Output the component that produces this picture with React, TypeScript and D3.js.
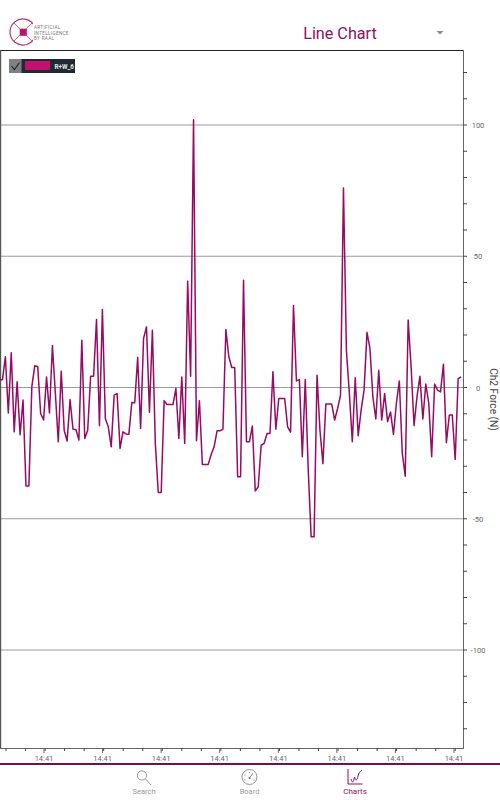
import React from "react";
import * as d3 from "d3";

const forceValues = [
  3, 3, 11.7, -9.7, 13.2, -16.9, 2.2, -18, -4.8, -37.5,
  -37.5, 0.3, 8.3, 7.9, -9.9, -12.4, 4, -9.7, 16, -2.3,
  -20.7, 6.2, -16.3, -20.4, -4.6, -15.9, -16, -20, 18, -19.4,
  -16.3, 4.3, 4.3, 25.9, -14.6, 29.7, -11.8, -15, -22.6, -2.9,
  -2.3, -23.2, -16.9, -17.7, -17.8, -5.7, -5.8, 11.4, -15.6, 18.7,
  23.1, -9.4, 21.8, -21.3, -40, -40, -5, -6.5, -6.5, -6.5,
  -0.4, -19.4, 4, -21.3, 40.5, 4.3, 102, -20.3, -5, -29.3,
  -29.3, -29.3, -25.5, -22.6, -16.5, -16.5, -15.9, 22.1, 11.7, 7.6,
  7.6, -34, -34, 40.9, -20.7, -20.7, -14.7, -39.4, -37.8, -22,
  -21.3, -17.5, -17.5, 6, -15.9, -4.2, -4.2, -4.2, -15, -17,
  31.2, 2.5, 3, -26.4, 3, -31, -56.9, -56.9, 4.7, -16.3,
  -29, -6.3, -6.3, -6.3, -12.4, -8, -2.9, 76, 14, -2.3,
  -20.7, 3.7, -18.4, -8.6, -1, 21, 14.9, -3.6, -12, 6.6,
  -12.4, -2.3, -13, -9.3, -17.9, -6, 2.5, -25, -33.8, 25.7,
  7.9, -14.5, -3.6, 4.3, -12, 1.3, -6, -26.4, 1.3, -1,
  -1.7, 8.9, -21, -10.5, -10.5, -27.4, 3.4, 4,
];
const yGrid = [100, 50, 0, -50, -100];
const yMinor = d3.range(-130, 130, 10);
const xMajorIndex = [0, 1, 2, 3, 4, 5, 6, 7];
const xTickLabel = "14:41";
const seriesName = "R+W_6";
const yTitle = "Ch2 Force (N)";
const chartTitle = "Line Chart";
const navItems = ["Search", "Board", "Charts"];
const logoLines = ["ARTIFICIAL", "INTELLIGENCE", "BY RAAL"];

const PURPLE = "#8e0f62";
const LINE = "#960b63";
const font = "Roboto, sans-serif";

const PLOT_L = 0;
const PLOT_R = 463;
const PLOT_T = 50;
const PLOT_B = 748;

const x = d3.scaleLinear().domain([0, forceValues.length - 1]).range([-0.5, -0.5 + 2.94 * (forceValues.length - 1)]);
const y = d3.scaleLinear().domain([100, -100]).range([125, 650]);
const xMajor = d3.scaleLinear().domain([0, 7]).range([44, 454]);
const xMinorPositions = d3.range(-14, 463, 19.53);

const ringArc = d3.arc()({ innerRadius: 13, outerRadius: 13, startAngle: 1.95, endAngle: 2 * Math.PI + 1.15 }) as string;

export default function App() {
  const path = d3.line<number>().x((_, i) => x(i)).y((v) => y(v))(forceValues) as string;
  return (
    <svg width={500} height={800} style={{ position: "fixed", left: 0, top: 0, background: "#fff", fontFamily: font }}>
      {/* header */}
      <g>
        <path d={ringArc} transform="translate(23,32)" fill="none" stroke="#b0336f" strokeWidth={1.2} />
        <line x1={14} y1={23} x2={32} y2={41} stroke="#b8457f" strokeWidth={0.8} />
        <line x1={32} y1={23} x2={14} y2={41} stroke="#b8457f" strokeWidth={0.8} />
        <rect x={20} y={29} width={6.5} height={6.5} fill="#b8156c" stroke="#b8156c" strokeWidth={0.6} />
        <rect x={33} y={23} width={36} height={18} fill="#fff" />
        {logoLines.map((t, i) => (
          <text key={t} x={34} y={29 + i * 5.6} fontSize={4.6} letterSpacing={0.35} fill="#77777a">{t}</text>
        ))}
      </g>
      <text x={340} y={38.5} textAnchor="middle" fontSize={16.2} fill={PURPLE}>{chartTitle}</text>
      <path d="M436.5,31 L443.5,31 L440,34.5 Z" fill="#8a8a8a" />

      {/* grid */}
      {yGrid.map((v) => (
        <line key={v} x1={PLOT_L} x2={PLOT_R} y1={y(v)} y2={y(v)} stroke="#9a9a9a" strokeWidth={1} />
      ))}
      {/* frame */}
      <line x1={0} x2={PLOT_R + 0.5} y1={50.5} y2={50.5} stroke="#222" strokeWidth={1} />
      <line x1={0.5} x2={0.5} y1={PLOT_T} y2={PLOT_B} stroke="#555" strokeWidth={1.4} />
      <line x1={PLOT_R + 0.5} x2={PLOT_R + 0.5} y1={PLOT_T} y2={PLOT_B} stroke="#666" strokeWidth={1} />
      <line x1={0} x2={PLOT_R + 1} y1={PLOT_B + 0.5} y2={PLOT_B + 0.5} stroke="#666" strokeWidth={1} />

      {/* y ticks */}
      {yMinor.map((v) => (
        <line key={v} x1={PLOT_R} x2={PLOT_R + 4} y1={y(v)} y2={y(v)} stroke="#444" strokeWidth={1} />
      ))}
      {yGrid.map((v) => (
        <text key={v} x={478} y={y(v) + 3} textAnchor="middle" fontSize={7.5} fill="#666">{v}</text>
      ))}
      <text transform="translate(490,399.5) rotate(90)" textAnchor="middle" fontSize={10.2} fill="#444">{yTitle}</text>

      {/* x ticks */}
      {xMinorPositions.map((p) => (
        <line key={p} x1={p + 0.5} x2={p + 0.5} y1={PLOT_B} y2={PLOT_B + 3} stroke="#444" strokeWidth={1} />
      ))}
      {xMajorIndex.map((i) => (
        <g key={i}>
          <line x1={xMajor(i)} x2={xMajor(i)} y1={PLOT_B} y2={PLOT_B + 5} stroke="#666" strokeWidth={1} />
          <text x={xMajor(i)} y={761} textAnchor="middle" fontSize={7.5} fill="#666">{xTickLabel}</text>
        </g>
      ))}

      {/* series */}
      <path d={path} fill="none" stroke={LINE} strokeWidth={1.5} strokeLinejoin="round" />

      {/* legend */}
      <rect x={9} y={59} width={66} height={14} fill="#1f2a33" />
      <rect x={9} y={59} width={12.5} height={14} fill="#7d8084" />
      <path d="M11.5,66 L14.5,69.5 L19.5,62.5" fill="none" stroke="#222" strokeWidth={1.1} />
      <rect x={25} y={61} width={25} height={9} fill="#c2116f" />
      <text x={54.5} y={68.5} fontSize={6.3} fontWeight={700} fill="#e8e8e8">{seriesName}</text>

      {/* bottom bar */}
      <rect x={0} y={763} width={500} height={2} fill="#760f52" />
      <circle cx={142} cy={775.5} r={4.6} fill="none" stroke="#999" strokeWidth={1} />
      <line x1={145.5} y1={779} x2={151} y2={785} stroke="#999" strokeWidth={1} />
      <text x={144} y={794} textAnchor="middle" fontSize={7.5} fill="#999">{navItems[0]}</text>

      <circle cx={249.5} cy={777} r={7.5} fill="none" stroke="#888" strokeWidth={0.9} />
      <circle cx={249.5} cy={778} r={1} fill="#666" />
      <line x1={250} y1={777.5} x2={253} y2={773} stroke="#666" strokeWidth={0.8} />
      <circle cx={245} cy={775} r={0.6} fill="#777" />
      <circle cx={249.5} cy={772.5} r={0.6} fill="#777" />
      <circle cx={245} cy={780} r={0.6} fill="#777" />
      <circle cx={254} cy={780} r={0.6} fill="#777" />
      <text x={249.5} y={794} textAnchor="middle" fontSize={7.5} fill="#999">{navItems[1]}</text>

      <path d="M348,769 V784 H362.5" fill="none" stroke={PURPLE} strokeWidth={1} />
      <path d="M351,779 C352.5,784 353.5,782 354.5,777 C355.5,781 357,781 358,776 C358.7,773 360,771 362,770.5" fill="none" stroke={PURPLE} strokeWidth={1} />
      <text x={355} y={794} textAnchor="middle" fontSize={8} fill={PURPLE}>{navItems[2]}</text>
    </svg>
  );
}
